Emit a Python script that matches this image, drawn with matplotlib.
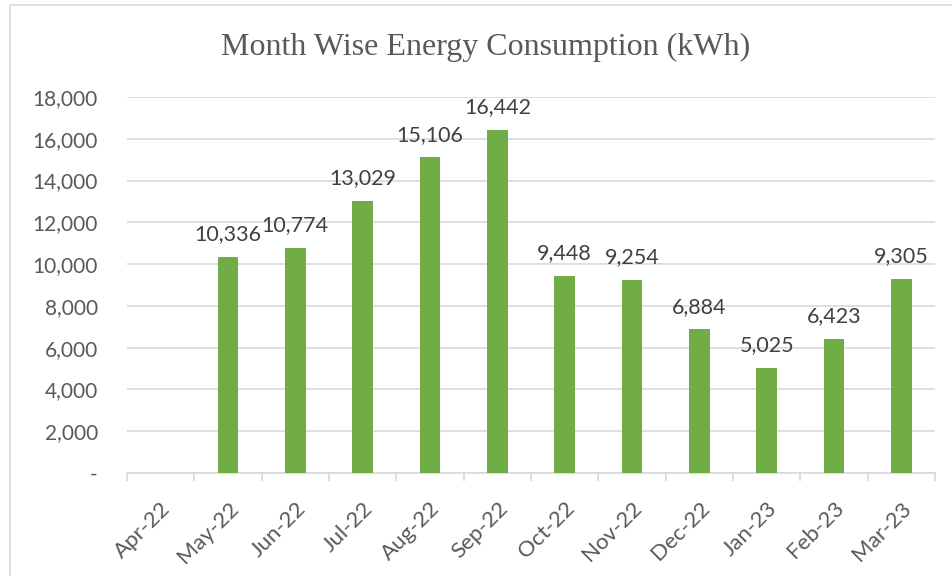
import matplotlib
matplotlib.use("Agg")
import matplotlib.pyplot as plt
from matplotlib.ticker import FuncFormatter, FixedLocator
from matplotlib.patches import Rectangle

months = ["Apr-22", "May-22", "Jun-22", "Jul-22", "Aug-22", "Sep-22",
          "Oct-22", "Nov-22", "Dec-22", "Jan-23", "Feb-23", "Mar-23"]
consumption = [0, 10336, 10774, 13029, 15106, 16442,
               9448, 9254, 6884, 5025, 6423, 9305]
yticks = list(range(0, 18001, 2000))

fig = plt.figure(figsize=(9.52, 5.76), dpi=100)
fig.patch.set_facecolor("white")
fig.patches.append(Rectangle((10/952, -0.1), 1.2, 1 - 5/576 + 0.1,
                             transform=fig.transFigure, fill=False,
                             edgecolor="#D9D9D9", linewidth=1.2))

ax = fig.add_axes([127/952, 1 - 473/576, (935 - 127)/952, (473 - 97)/576])
x = list(range(len(months)))
ax.bar(x, consumption, width=0.31, color="#70AD47", zorder=3)
ax.set_xlim(-0.5, len(months) - 0.5)
ax.set_ylim(0, 18000)

font = "Lato"
ax.set_yticks(yticks)
ax.yaxis.set_major_formatter(FuncFormatter(lambda v, p: "-" if v == 0 else f"{int(v):,}"))
ax.tick_params(axis="y", length=0, pad=21, labelsize=15, labelcolor="#595959")
for lab in ax.get_yticklabels():
    lab.set_fontfamily(font)
ax.grid(axis="y", color="#D9D9D9", linewidth=1.2, zorder=0)

ax.set_xticks(x)
ax.set_xticklabels(months, rotation=45, ha="right", va="top",
                   rotation_mode="anchor", fontsize=16, color="#595959",
                   fontfamily=font)
ax.tick_params(axis="x", length=0, pad=18)
ax.xaxis.set_minor_locator(FixedLocator([i - 0.5 for i in range(len(months) + 1)]))
ax.tick_params(axis="x", which="minor", length=6, width=1.2, color="#D9D9D9")

for s in ["top", "right", "left"]:
    ax.spines[s].set_visible(False)
ax.spines["bottom"].set_color("#D9D9D9")
ax.spines["bottom"].set_linewidth(1.2)

for i, v in enumerate(consumption):
    if v > 0:
        ax.annotate(f"{v:,}", (i, v), xytext=(0, 9), textcoords="offset points",
                    ha="center", va="bottom", fontsize=15.5, color="#404040",
                    fontfamily=font)

fig.text(486/952, 1 - 47/576, "Month Wise Energy Consumption (kWh)",
         ha="center", va="center", fontsize=23, color="#595959",
         fontfamily="Liberation Serif")

fig.savefig("out.png", dpi=100)
